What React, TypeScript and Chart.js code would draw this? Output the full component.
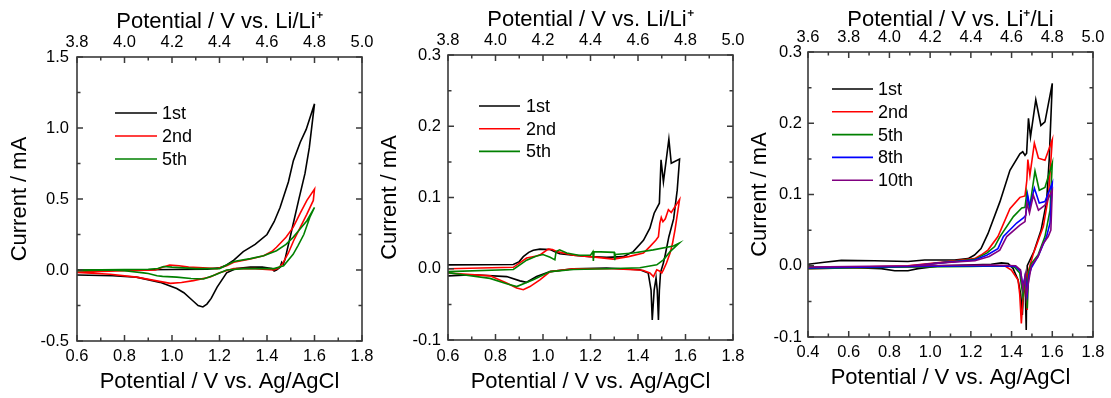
import React, { useEffect, useRef } from "react";
import { Chart, registerables } from "chart.js";

Chart.register(...registerables);

type Pt = [number, number];

// ---------------- Panel 1 (left) ----------------
const P1_LABELS = ["1st", "2nd", "5th"];
const p1Cycle1: Pt[] = [
  [0.6, 0.0], [0.8, 0.0], [1.0, 0.003], [1.15, 0.006], [1.2, 0.015], [1.23, 0.035], [1.257, 0.065],
  [1.3, 0.13], [1.35, 0.18], [1.4, 0.25], [1.43, 0.34], [1.455, 0.44], [1.49, 0.62], [1.511, 0.77],
  [1.54, 0.9], [1.565, 0.99], [1.6, 1.17],
  [1.578, 0.86], [1.56, 0.68], [1.533, 0.49], [1.5, 0.25], [1.475, 0.07], [1.468, 0.04], [1.462, 0.055],
  [1.455, 0.02], [1.44, 0.0], [1.43, -0.008], [1.42, 0.01], [1.38, 0.02], [1.33, 0.02], [1.27, 0.01],
  [1.23, -0.02], [1.19, -0.12], [1.165, -0.2], [1.147, -0.24], [1.13, -0.26], [1.11, -0.25], [1.09, -0.22],
  [1.05, -0.16], [1.02, -0.13], [0.95, -0.087], [0.85, -0.05], [0.75, -0.04], [0.6, -0.035],
];
const p1Cycle2: Pt[] = [
  [0.6, -0.015], [0.8, -0.005], [0.93, 0.0], [0.96, 0.02], [0.99, 0.035], [1.03, 0.03], [1.07, 0.02],
  [1.19, 0.01], [1.23, 0.03], [1.26, 0.054], [1.33, 0.077], [1.386, 0.1], [1.42, 0.13], [1.44, 0.16],
  [1.48, 0.23], [1.51, 0.3], [1.54, 0.4], [1.568, 0.49], [1.6, 0.57],
  [1.595, 0.49], [1.567, 0.39], [1.54, 0.3], [1.512, 0.206], [1.49, 0.12], [1.464, 0.04], [1.445, 0.01],
  [1.428, 0.0], [1.35, 0.01], [1.26, 0.01], [1.2, -0.02], [1.161, -0.05], [1.09, -0.075], [1.04, -0.088],
  [0.993, -0.094], [0.93, -0.075], [0.85, -0.05], [0.74, -0.03], [0.6, -0.017],
];
const p1Cycle5: Pt[] = [
  [0.6, 0.0], [0.9, 0.005], [0.94, 0.01], [0.965, 0.025], [1.0, 0.02], [1.1, 0.01], [1.2, 0.01],
  [1.26, 0.06], [1.33, 0.08], [1.386, 0.1], [1.44, 0.136], [1.48, 0.18], [1.51, 0.23], [1.54, 0.29],
  [1.568, 0.347], [1.6, 0.44],
  [1.58, 0.37], [1.555, 0.25], [1.53, 0.17], [1.51, 0.11], [1.47, 0.03], [1.43, 0.01], [1.3, 0.01],
  [1.23, 0.0], [1.18, -0.035], [1.133, -0.063], [1.08, -0.06], [1.02, -0.05], [0.96, -0.045],
  [0.937, -0.04], [0.9, -0.025], [0.88, -0.02], [0.8, -0.005], [0.74, 0.0], [0.6, -0.005],
];

// ---------------- Panel 2 (middle) ----------------
const P2_LABELS = ["1st", "2nd", "5th"];
const p2Cycle1: Pt[] = [
  [0.6, 0.0055], [0.875, 0.006], [0.9, 0.01], [0.917, 0.017], [0.94, 0.023], [0.959, 0.026],
  [0.987, 0.0275], [1.03, 0.027], [1.05, 0.024], [1.07, 0.021], [1.128, 0.019], [1.198, 0.017],
  [1.268, 0.016], [1.338, 0.017], [1.38, 0.024], [1.423, 0.04], [1.45, 0.057], [1.468, 0.078],
  [1.49, 0.092], [1.497, 0.153], [1.507, 0.122], [1.53, 0.182], [1.54, 0.148], [1.575, 0.154],
  [1.565, 0.11], [1.55, 0.07], [1.53, 0.045], [1.515, 0.02], [1.507, 0.008], [1.495, -0.005],
  [1.49, -0.03], [1.486, -0.072], [1.481, -0.03], [1.476, -0.013], [1.468, -0.03], [1.46, -0.072],
  [1.455, -0.03], [1.443, -0.006], [1.408, -0.0015], [1.268, 0.001], [1.128, 0.0], [1.03, -0.004],
  [0.973, -0.011], [0.931, -0.019], [0.903, -0.017], [0.847, -0.011], [0.707, -0.0085], [0.6, -0.01],
];
const p2Cycle2: Pt[] = [
  [0.6, 0.0], [0.875, 0.002], [0.931, 0.015], [0.973, 0.018], [0.99, 0.02], [1.022, 0.0275],
  [1.04, 0.027], [1.06, 0.024], [1.128, 0.019], [1.2, 0.017], [1.296, 0.0135], [1.36, 0.017],
  [1.423, 0.022], [1.45, 0.031], [1.475, 0.04], [1.486, 0.045], [1.492, 0.064], [1.498, 0.072],
  [1.505, 0.066], [1.515, 0.07], [1.528, 0.083], [1.54, 0.079], [1.575, 0.097],
  [1.556, 0.055], [1.545, 0.035], [1.535, 0.022], [1.52, 0.008], [1.507, -0.0015], [1.5, -0.006],
  [1.49, -0.003], [1.479, -0.0015], [1.465, -0.011], [1.45, -0.006], [1.42, -0.002], [1.3, 0.0],
  [1.128, 0.0], [1.03, -0.004], [0.987, -0.0155], [0.945, -0.025], [0.917, -0.0295], [0.889, -0.027],
  [0.847, -0.02], [0.777, -0.01], [0.6, -0.006],
];
const p2Cycle5: Pt[] = [
  [0.6, -0.004], [0.875, -0.001], [0.931, 0.012], [0.973, 0.018], [1.0, 0.02], [1.03, 0.016],
  [1.05, 0.0125], [1.055, 0.024], [1.07, 0.0265], [1.1, 0.022], [1.15, 0.019], [1.2, 0.019],
  [1.21, 0.024], [1.212, 0.011], [1.215, 0.024], [1.3, 0.023], [1.302, 0.012], [1.305, 0.02],
  [1.38, 0.022], [1.464, 0.0265], [1.549, 0.032], [1.574, 0.036],
  [1.535, 0.024], [1.507, 0.0125], [1.479, 0.0055], [1.408, 0.0015], [1.27, 0.0], [1.128, -0.001],
  [1.03, -0.004], [0.959, -0.0155], [0.889, -0.025], [0.847, -0.021], [0.777, -0.0135], [0.6, -0.0055],
];

// ---------------- Panel 3 (right) ----------------
const P3_LABELS = ["1st", "2nd", "5th", "8th", "10th"];
const p3Cycle1: Pt[] = [
  [0.4, 0.002], [0.48, 0.005], [0.564, 0.0075], [0.727, 0.007], [0.891, 0.006], [0.973, 0.008],
  [1.12, 0.008], [1.186, 0.01], [1.218, 0.015], [1.25, 0.024], [1.284, 0.045], [1.343, 0.09],
  [1.392, 0.134], [1.441, 0.157], [1.455, 0.16], [1.466, 0.155], [1.474, 0.158], [1.483, 0.207],
  [1.493, 0.181], [1.519, 0.233], [1.544, 0.197], [1.564, 0.202], [1.6, 0.256],
  [1.585, 0.15], [1.572, 0.09], [1.545, 0.05], [1.51, 0.02], [1.49, 0.008], [1.477, 0.0],
  [1.474, -0.04], [1.472, -0.09], [1.468, -0.04], [1.464, -0.02], [1.458, -0.04], [1.453, -0.069],
  [1.445, -0.04], [1.432, -0.02], [1.407, -0.0036], [1.383, 0.003], [1.35, 0.004], [1.3, 0.002],
  [1.055, 0.0], [0.94, -0.004], [0.891, -0.007], [0.826, -0.007], [0.76, -0.004], [0.564, -0.002],
  [0.4, -0.002],
];
const p3Cycle2: Pt[] = [
  [0.4, -0.004], [0.6, -0.002], [0.891, 0.0], [1.055, 0.005], [1.218, 0.01], [1.25, 0.015],
  [1.284, 0.022], [1.333, 0.041], [1.392, 0.08], [1.441, 0.096], [1.466, 0.098], [1.475, 0.12],
  [1.48, 0.149], [1.49, 0.127], [1.512, 0.172], [1.532, 0.151], [1.564, 0.148], [1.6, 0.177],
  [1.581, 0.097], [1.556, 0.055], [1.507, 0.017], [1.49, 0.0], [1.48, -0.01], [1.477, -0.062],
  [1.472, -0.03], [1.464, -0.027], [1.455, -0.05], [1.448, -0.081], [1.44, -0.04], [1.432, -0.02],
  [1.399, -0.006], [1.366, 0.0], [1.218, 0.0], [0.891, -0.0015], [0.4, -0.004],
];
const p3Cycle5: Pt[] = [
  [0.4, -0.004], [0.6, -0.003], [0.9, -0.001], [1.05, 0.004], [1.22, 0.009], [1.28, 0.018],
  [1.317, 0.027], [1.343, 0.041], [1.409, 0.069], [1.45, 0.081], [1.466, 0.082], [1.475, 0.103],
  [1.488, 0.08], [1.515, 0.133], [1.536, 0.106], [1.564, 0.11], [1.6, 0.144],
  [1.589, 0.078], [1.564, 0.041], [1.53, 0.015], [1.497, 0.003], [1.483, -0.01], [1.477, -0.06],
  [1.472, -0.02], [1.467, -0.015], [1.456, -0.043], [1.44, -0.01], [1.415, -0.002], [1.383, 0.0],
  [1.2, -0.001], [0.8, -0.002], [0.4, -0.004],
];
const p3Cycle8: Pt[] = [
  [0.4, -0.003], [0.9, -0.001], [1.05, 0.004], [1.22, 0.008], [1.28, 0.015], [1.333, 0.024],
  [1.36, 0.041], [1.425, 0.06], [1.458, 0.067], [1.47, 0.071], [1.479, 0.099], [1.49, 0.083],
  [1.512, 0.109], [1.536, 0.088], [1.564, 0.09], [1.6, 0.116],
  [1.589, 0.06], [1.572, 0.041], [1.53, 0.013], [1.497, -0.003], [1.485, -0.014], [1.477, -0.039],
  [1.467, -0.014], [1.456, -0.029], [1.444, -0.008], [1.42, -0.001], [1.3, 0.0], [0.9, -0.001],
  [0.4, -0.003],
];
const p3Cycle10: Pt[] = [
  [0.4, -0.002], [0.9, 0.0], [1.05, 0.004], [1.22, 0.007], [1.29, 0.013], [1.342, 0.022],
  [1.376, 0.041], [1.441, 0.057], [1.466, 0.062], [1.475, 0.088], [1.488, 0.074], [1.507, 0.099],
  [1.532, 0.078], [1.564, 0.085], [1.6, 0.106],
  [1.593, 0.05], [1.58, 0.041], [1.555, 0.031], [1.53, 0.013], [1.497, 0.0], [1.485, -0.02],
  [1.472, -0.043], [1.467, -0.014], [1.456, -0.033], [1.444, -0.006], [1.42, 0.0], [1.3, 0.001],
  [0.9, 0.0], [0.4, -0.002],
];

// ---------------- Axes ----------------
const P1_X_RANGE = [0.6, 1.8];
const P1_TOP_RANGE = [3.8, 5.0];
const P1_Y_RANGE = [-0.5, 1.5];
const P2_X_RANGE = [0.6, 1.8];
const P2_TOP_RANGE = [3.8, 5.0];
const P2_Y_RANGE = [-0.1, 0.3];
const P3_X_RANGE = [0.4, 1.8];
const P3_TOP_RANGE = [3.6, 5.0];
const P3_Y_RANGE = [-0.1, 0.3];

const X_TITLE = "Potential / V vs. Ag/AgCl";
const Y_TITLE = "Current / mA";
const TOP_TITLE_A = "Potential / V vs. Li/Li\u207A";
const TOP_TITLE_B = "Potential / V vs. Li\u207A/Li";

const COLORS = ["#000000", "#ff0000", "#008000", "#0000ff", "#800080"];

// ---------------- Layout / style ----------------
const W = 1111;
const H = 398;
const FONT = "'Liberation Sans', Arial, Helvetica, sans-serif";
const FRAME = "#3a3a3a";

const PANELS = [
  {
    series: [p1Cycle1, p1Cycle2, p1Cycle5], labels: P1_LABELS,
    xr: P1_X_RANGE, tr: P1_TOP_RANGE, yr: P1_Y_RANGE, yStep: 0.5, topTitle: TOP_TITLE_A,
    padLeft: 0, yWidth: 77, padRight: W - 362, topH: 57, bottomH: H - 341,
    xTickPad: 6, yTickPad: 8, topTickPad: 5, titleTopPad: 9, titleBottomPad: 3,
    legend: { x1: 115, x2: 157, tx: 162, y0: 113, dy: 23 },
  },
  {
    series: [p2Cycle1, p2Cycle2, p2Cycle5], labels: P2_LABELS,
    xr: P2_X_RANGE, tr: P2_TOP_RANGE, yr: P2_Y_RANGE, yStep: 0.1, topTitle: TOP_TITLE_A,
    padLeft: 370, yWidth: 78, padRight: W - 733, topH: 55, bottomH: H - 340,
    xTickPad: 7, yTickPad: 7, topTickPad: 5, titleTopPad: 7, titleBottomPad: 3,
    legend: { x1: 479, x2: 520, tx: 526, y0: 106, dy: 22.7 },
  },
  {
    series: [p3Cycle1, p3Cycle2, p3Cycle5, p3Cycle8, p3Cycle10], labels: P3_LABELS,
    xr: P3_X_RANGE, tr: P3_TOP_RANGE, yr: P3_Y_RANGE, yStep: 0.1, topTitle: TOP_TITLE_B,
    padLeft: 740, yWidth: 68, padRight: W - 1093, topH: 52, bottomH: H - 337,
    xTickPad: 6, yTickPad: 6, topTickPad: 5, titleTopPad: 7, titleBottomPad: 7,
    legend: { x1: 832, x2: 873, tx: 878, y0: 89, dy: 22.8 },
  },
];

function framePlugin(p: any) {
  return {
    id: "frameTicks",
    afterDatasetsDraw(chart: any) {
      const { ctx, chartArea: a, scales } = chart;
      const x = scales.x, y = scales.y, x2 = scales.x2;
      ctx.save();
      ctx.strokeStyle = FRAME;
      ctx.lineWidth = 1.5;
      ctx.beginPath();
      const MAJ = 6, MIN = 3.5;
      const nx = Math.round((p.xr[1] - p.xr[0]) / 0.1);
      for (let k = 0; k <= nx; k++) {
        const len = k % 2 === 0 ? MAJ : MIN;
        const px = x.getPixelForValue(p.xr[0] + k * 0.1);
        ctx.moveTo(px, a.bottom); ctx.lineTo(px, a.bottom - len);
        const pt = x2.getPixelForValue(p.tr[0] + k * 0.1);
        ctx.moveTo(pt, a.top); ctx.lineTo(pt, a.top + len);
      }
      const minor = p.yStep / 2;
      const ny = Math.round((p.yr[1] - p.yr[0]) / minor);
      for (let k = 0; k <= ny; k++) {
        const len = k % 2 === 0 ? MAJ : MIN;
        const py = y.getPixelForValue(p.yr[0] + k * minor);
        ctx.moveTo(a.left, py); ctx.lineTo(a.left + len, py);
        ctx.moveTo(a.right, py); ctx.lineTo(a.right - len, py);
      }
      ctx.stroke();
      ctx.lineWidth = 1.6;
      ctx.strokeRect(a.left, a.top, a.right - a.left, a.bottom - a.top);
      // legend
      const L = p.legend;
      ctx.font = `18px ${FONT}`;
      ctx.textBaseline = "middle";
      ctx.textAlign = "left";
      p.labels.forEach((lab: string, i: number) => {
        const yy = L.y0 + i * L.dy;
        ctx.strokeStyle = COLORS[i];
        ctx.lineWidth = 1.6;
        ctx.beginPath();
        ctx.moveTo(L.x1, yy); ctx.lineTo(L.x2, yy);
        ctx.stroke();
        ctx.fillStyle = "#000";
        ctx.fillText(lab, L.tx, yy + 1);
      });
      ctx.restore();
    },
  };
}

function Panel({ p }: { p: any }) {
  const ref = useRef<HTMLCanvasElement | null>(null);
  useEffect(() => {
    if (!ref.current) return;
    const n = p.series.length;
    const tickFont = { family: FONT, size: 16.5 };
    const titleFont = { family: FONT, size: 22 };
    const noGrid = { display: false, drawTicks: false, tickLength: 0 };
    const chart = new Chart(ref.current, {
      type: "scatter",
      data: {
        datasets: p.series.map((s: Pt[], i: number) => ({
          label: p.labels[i],
          data: s.map(([vx, vy]) => ({ x: vx, y: vy })),
          showLine: true,
          borderColor: COLORS[i],
          backgroundColor: COLORS[i],
          borderWidth: 1.6,
          pointRadius: 0,
          tension: 0,
          fill: false,
          order: n - 1 - i,
        })),
      },
      options: {
        responsive: false,
        animation: false,
        events: [],
        layout: { padding: { left: p.padLeft, right: p.padRight, top: 0, bottom: 0 } },
        plugins: { legend: { display: false }, tooltip: { enabled: false } },
        scales: {
          x: {
            type: "linear", position: "bottom", min: p.xr[0], max: p.xr[1],
            grid: noGrid, border: { display: false },
            ticks: {
              stepSize: 0.2, autoSkip: false, maxRotation: 0, color: "#000", font: tickFont,
              padding: p.xTickPad, callback: (v: any) => Number(v).toFixed(1),
            },
            title: { display: true, text: X_TITLE, color: "#000", font: titleFont, padding: { top: 0, bottom: p.titleBottomPad } },
            afterFit: (s: any) => { s.height = p.bottomH; s.paddingLeft = 0; s.paddingRight = 0; },
          },
          x2: {
            type: "linear", position: "top", min: p.tr[0], max: p.tr[1],
            grid: noGrid, border: { display: false },
            ticks: {
              stepSize: 0.2, autoSkip: false, maxRotation: 0, color: "#000", font: tickFont,
              padding: p.topTickPad, callback: (v: any) => Number(v).toFixed(1),
            },
            title: { display: true, text: p.topTitle, color: "#000", font: titleFont, padding: { top: p.titleTopPad, bottom: 0 } },
            afterFit: (s: any) => { s.height = p.topH; s.paddingLeft = 0; s.paddingRight = 0; },
          },
          y: {
            type: "linear", position: "left", min: p.yr[0], max: p.yr[1],
            grid: noGrid, border: { display: false },
            ticks: {
              stepSize: p.yStep, autoSkip: false, color: "#000", font: tickFont,
              padding: p.yTickPad, callback: (v: any) => Number(v).toFixed(1),
            },
            title: { display: true, text: Y_TITLE, color: "#000", font: titleFont, padding: { top: 7, bottom: 0 } },
            afterFit: (s: any) => { s.width = p.yWidth; s.paddingTop = 0; s.paddingBottom = 0; },
          },
        },
      } as any,
      plugins: [framePlugin(p)],
    });
    return () => chart.destroy();
  }, [p]);
  return (
    <canvas
      ref={ref}
      width={W}
      height={H}
      style={{ position: "absolute", left: 0, top: 0, width: W, height: H }}
    />
  );
}

export default function App() {
  return (
    <div style={{ position: "absolute", left: 0, top: 0, width: W, height: H, background: "#fff", overflow: "hidden" }}>
      {PANELS.map((p, i) => (
        <Panel key={i} p={p} />
      ))}
    </div>
  );
}
